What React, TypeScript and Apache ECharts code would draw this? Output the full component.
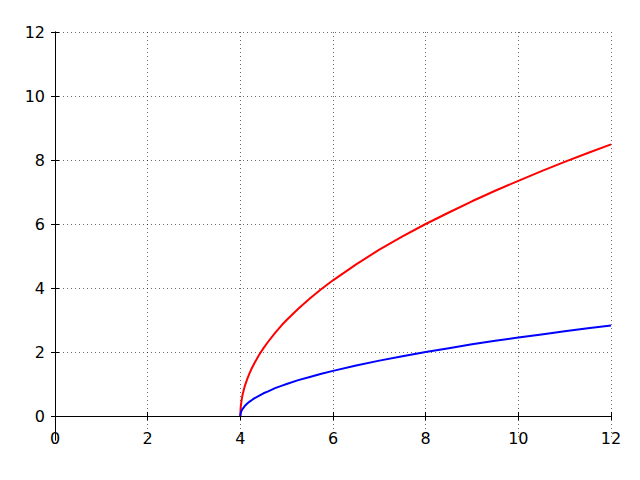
import React, { useEffect, useRef } from "react";
import * as echarts from "echarts";

const xValues = [4, 4.005, 4.01, 4.02, 4.035, 4.05, 4.075, 4.1, 4.15, 4.2, 4.25, 4.3, 4.4, 4.5, 4.6, 4.75, 4.9, 5, 5.25, 5.5, 5.75, 6, 6.5, 7, 7.5, 8, 8.5, 9, 9.5, 10, 10.5, 11, 11.5, 12];
const redValues = [0, 0.21, 0.3, 0.42, 0.56, 0.67, 0.82, 0.95, 1.16, 1.34, 1.5, 1.64, 1.9, 2.12, 2.32, 2.6, 2.85, 3.0, 3.35, 3.67, 3.97, 4.24, 4.74, 5.2, 5.61, 6.0, 6.36, 6.71, 7.04, 7.35, 7.65, 7.94, 8.22, 8.49];
const blueValues = [0, 0.07, 0.1, 0.14, 0.19, 0.22, 0.27, 0.32, 0.39, 0.45, 0.5, 0.55, 0.63, 0.71, 0.77, 0.87, 0.95, 1.0, 1.12, 1.22, 1.32, 1.41, 1.58, 1.73, 1.87, 2.0, 2.12, 2.24, 2.35, 2.45, 2.55, 2.65, 2.74, 2.83];
const yTicks = [0, 2, 4, 6, 8, 10, 12];

const FONT = "DejaVu Sans";
const gridLine = { show: true, lineStyle: { color: "#000", width: 0.6, type: [1, 3] as any } };

export default function App() {
  const ref = useRef<HTMLDivElement>(null);
  useEffect(() => {
    if (!ref.current) return;
    const chart = echarts.init(ref.current, null, { renderer: "svg" });
    const red = xValues.map((x, i) => [x, redValues[i]]);
    const blue = xValues.map((x, i) => [x, blueValues[i]]);
    chart.setOption({
      animation: false,
      grid: { left: 55, right: 29, top: 32, bottom: 40 },
      xAxis: [
        {
          type: "value", min: 0, max: 12, interval: 2, position: "bottom",
          axisLine: { onZero: true, lineStyle: { color: "#000", width: 1 } },
          axisTick: { show: true, length: 4, lineStyle: { color: "#000" } },
          axisLabel: { color: "#000", fontFamily: FONT, fontSize: 16, margin: -10 },
          splitLine: gridLine,
        },
        {
          type: "value", min: 0, max: 12, interval: 2, position: "top",
          axisLine: { onZero: true, lineStyle: { color: "#000", width: 1 } },
          axisTick: { show: true, length: 4, lineStyle: { color: "#000" } },
          axisLabel: { show: false },
          splitLine: { show: false },
        },
      ],
      yAxis: [
        {
          type: "value", min: -0.75, max: 12, position: "left",
          axisLine: { show: true, onZero: false, lineStyle: { color: "#000", width: 1 } },
          axisTick: { show: true, length: 4, customValues: yTicks, lineStyle: { color: "#000" } },
          axisLabel: { color: "#000", fontFamily: FONT, fontSize: 16, margin: 10, customValues: yTicks },
          splitLine: gridLine,
        },
        {
          type: "value", min: -0.75, max: 12, position: "right",
          axisLine: { show: true, onZero: true, lineStyle: { color: "#000", width: 1 } },
          axisTick: { show: true, length: 4, customValues: yTicks, lineStyle: { color: "#000" } },
          axisLabel: { show: false },
          splitLine: { show: false },
        },
      ],
      series: [
        { type: "line", data: red, showSymbol: false, smooth: false, lineStyle: { color: "#ff0000", width: 2, join: "round" }, itemStyle: { color: "#ff0000" }, xAxisIndex: 0, yAxisIndex: 0 },
        { type: "line", data: blue, showSymbol: false, smooth: false, lineStyle: { color: "#0000ff", width: 2, join: "round" }, itemStyle: { color: "#0000ff" }, xAxisIndex: 0, yAxisIndex: 0 },
      ],
    });
    return () => chart.dispose();
  }, []);
  return <div ref={ref} style={{ width: 640, height: 480, position: "absolute", left: 0, top: 0 }} />;
}
